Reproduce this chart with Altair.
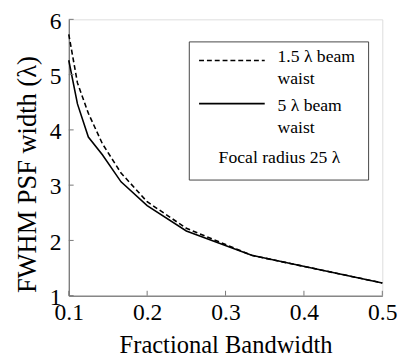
import altair as alt
import pandas as pd

# Data
bandwidth = [0.1, 0.1111, 0.125, 0.1429, 0.1667, 0.2, 0.25, 0.3333, 0.5]
waist_1_5 = [5.73, 4.85, 4.30, 3.75, 3.22, 2.70, 2.22, 1.73, 1.23]
waist_5 = [5.26, 4.47, 3.87, 3.55, 3.06, 2.63, 2.17, 1.73, 1.23]
x_ticks = [0.1, 0.2, 0.3, 0.4, 0.5]
y_ticks = [1, 2, 3, 4, 5, 6]

FONT = "'Liberation Serif', 'Times New Roman', Times, 'DejaVu Serif', serif"
W, H = 320, 282

df = pd.DataFrame({
    "bw": bandwidth * 2,
    "fwhm": waist_1_5 + waist_5,
    "series": ["1.5"] * len(bandwidth) + ["5"] * len(bandwidth),
})

xscale = alt.Scale(domain=[0.1, 0.5], nice=False, zero=False)
yscale = alt.Scale(domain=[1, 6], nice=False, zero=False)

xaxis = alt.Axis(values=x_ticks, format=".1f", ticks=False, grid=False,
                 labelFont=FONT, labelFontSize=24, labelColor="black",
                 labelFlush=False, labelPadding=5, domainColor="#555",
                 title="Fractional Bandwidth",
                 titleFont=FONT, titleFontSize=25, titleFontWeight="normal",
                 titleColor="black", titlePadding=9)
yaxis = alt.Axis(values=y_ticks, format="d", ticks=False, grid=False,
                 labelFont=FONT, labelFontSize=24, labelColor="black",
                 labelFlush=False, labelPadding=8, labelOffset=2, domainColor="#555",
                 title="FWHM PSF width (λ)", titleY=158,
                 titleFont=FONT, titleFontSize=27, titleFontWeight="normal",
                 titleColor="black", titlePadding=8)

base = alt.Chart(df)

dashed = base.transform_filter(alt.datum.series == "1.5").mark_line(
    color="black", strokeWidth=1.6, strokeDash=[5, 3]
).encode(x=alt.X("bw:Q", scale=xscale, axis=xaxis),
         y=alt.Y("fwhm:Q", scale=yscale, axis=yaxis))

solid = base.transform_filter(alt.datum.series == "5").mark_line(
    color="black", strokeWidth=1.6
).encode(x=alt.X("bw:Q", scale=xscale), y=alt.Y("fwhm:Q", scale=yscale))

xt = alt.Chart(pd.DataFrame({"t": x_ticks})).mark_rule(color="#777", strokeWidth=1).encode(
    x=alt.X("t:Q", scale=xscale), y=alt.value(H), y2=alt.value(H - 5))
yt = alt.Chart(pd.DataFrame({"t": y_ticks})).mark_rule(color="#777", strokeWidth=1).encode(
    y=alt.Y("t:Q", scale=yscale), x=alt.value(0), x2=alt.value(5))

one = pd.DataFrame({"a": [0]})

box = alt.Chart(one).mark_rect(fill="white", stroke="#444", strokeWidth=1).encode(
    x=alt.value(123), x2=alt.value(306), y=alt.value(23), y2=alt.value(164))
leg_dash = alt.Chart(one).mark_rule(color="black", strokeWidth=1.6, strokeDash=[5, 3]).encode(
    x=alt.value(133), x2=alt.value(200), y=alt.value(42))
leg_solid = alt.Chart(one).mark_rule(color="black", strokeWidth=1.6).encode(
    x=alt.value(133), x2=alt.value(200), y=alt.value(86))


def txt(s, x, y, align="left"):
    return alt.Chart(pd.DataFrame({"label": [s]})).mark_text(
        font=FONT, fontSize=18, color="black", align=align, baseline="middle"
    ).encode(x=alt.value(x), y=alt.value(y), text="label:N")


texts = [
    txt("1.5 λ beam", 213, 39),
    txt("waist", 213, 61),
    txt("5 λ beam", 213, 89),
    txt("waist", 213, 111),
    txt("Focal radius 25 λ", 215, 142, "center"),
]

chart = alt.layer(dashed, solid, xt, yt, box, leg_dash, leg_solid, *texts).properties(
    width=W, height=H,
    autosize=alt.AutoSizeParams(type="none"),
    padding={"left": 62, "top": 8, "right": 16, "bottom": 60},
).configure_view(stroke=None).configure(
    background="white", font=FONT
).configure_text(font=FONT)

chart.save("out.html", embed_options={"renderer": "svg", "actions": False})
